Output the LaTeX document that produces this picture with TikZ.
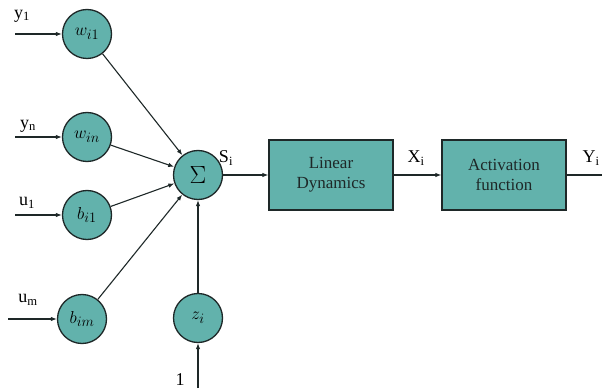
\documentclass[tikz,border=0pt]{standalone}
\usepackage{fontspec}
\setmainfont{Liberation Serif}
\usetikzlibrary{arrows.meta, positioning}
\definecolor{cellfill}{RGB}{98,178,172}
\definecolor{edgeink}{RGB}{30,40,40}

\begin{document}
\begin{tikzpicture}[x=1pt, y=-1pt, font=\fontsize{18}{19}\selectfont, >={Latex[length=6pt,width=4.5pt]},
    weight/.style={draw=edgeink, line width=1.3pt, fill=cellfill, circle, minimum size=49pt, inner sep=0pt, font=\fontsize{19}{20}\selectfont},
    block/.style={draw=edgeink, line width=1.3pt, fill=cellfill, minimum width=124pt, minimum height=70pt, align=center, text=edgeink, font=\fontsize{17}{20}\selectfont},
    wire/.style={edgeink, line width=1.1pt}]
    \useasboundingbox (0,0) rectangle (602,390);
    % input weights
    \node[weight] (w1) at (87,34) {$w_{i1}$};
    \node[weight] (wn) at (87,137) {$w_{in}$};
    \node[weight] (b1) at (87,215) {$b_{i1}$};
    \node[weight] (bm) at (82,319) {$b_{im}$};
    \node[weight] (z) at (198,318) {$z_i$};
    \node[weight, font=\fontsize{27}{27}\selectfont] (sum) at (198,175) {$\Sigma$};
    % blocks
    \node[block] (lin) at (331,175) {Linear\\Dynamics};
    \node[block] (act) at (504,175) {Activation\\function};
    % free ends
    \coordinate (iy1) at (15,34);
    \coordinate (iyn) at (15,137);
    \coordinate (iu1) at (15,215);
    \coordinate (ium) at (8,319);
    \coordinate (ione) at (198,388);
    \coordinate (out) at (602,175);
    \node (ly1) at (22,16) {y\textsubscript{1}};
    \node (lyn) at (28,126) {y\textsubscript{n}};
    \node (lu1) at (27,203) {u\textsubscript{1}};
    \node (lum) at (28,300) {u\textsubscript{m}};
    \node (lone) at (180,380) {1};
    \node (ls) at (226,158) {S\textsubscript{i}};
    \node (lx) at (416,158) {X\textsubscript{i}};
    \node (ly) at (591,158) {Y\textsubscript{i}};
    \draw[wire, ->] (iy1) -- (w1);
    \draw[wire, ->] (iyn) -- (wn);
    \draw[wire, ->] (iu1) -- (b1);
    \draw[wire, ->] (ium) -- (bm);
    \draw[wire, ->] (ione) -- (z);
    \draw[wire, ->] (w1) -- (sum);
    \draw[wire, ->] (wn) -- (sum);
    \draw[wire, ->] (b1) -- (sum);
    \draw[wire, ->] (bm) -- (sum);
    \draw[wire, ->] (z) -- (sum);
    \draw[wire, ->] (sum) -- (lin);
    \draw[wire, ->] (lin) -- (act);
    \draw[wire] (act) -- (out);
\end{tikzpicture}
\end{document}
